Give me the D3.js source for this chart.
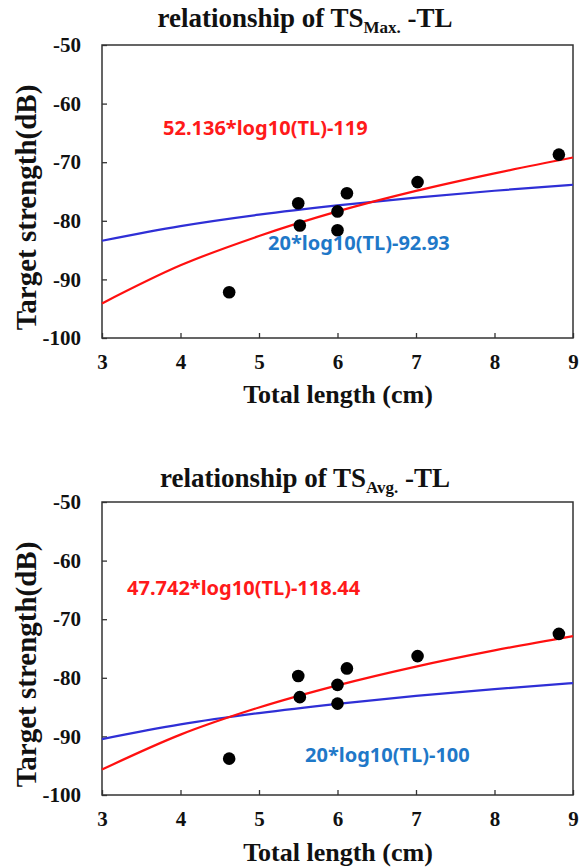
<!DOCTYPE html>
<html>
<head>
<meta charset="utf-8">
<script src="https://cdn.jsdelivr.net/npm/d3@7"></script>
<style>
  html, body { margin: 0; padding: 0; background: #fff; }
  svg { display: block; }
  .serif { font-family: "Liberation Serif", "Times New Roman", serif; font-weight: bold; }
</style>
</head>
<body>
<svg id="chart" width="585" height="867"></svg>
<script>
// ---- data ----
const fishTL = [4.62, 5.50, 5.52, 6.00, 6.00, 6.12, 7.02, 8.82];
const tsMax  = [-92.2, -77.0, -80.8, -78.4, -81.6, -75.3, -73.4, -68.7];
const tsAvg  = [-93.8, -79.7, -83.3, -81.2, -84.4, -78.4, -76.3, -72.5];

const curveTL = [3, 4, 5, 6, 7, 8, 9];
const maxFitRed  = [-94.1, -87.6, -82.6, -78.4, -74.9, -71.9, -69.2];
const maxFitBlue = [-83.4, -80.9, -78.95, -77.37, -76.03, -74.87, -73.85];
const avgFitRed  = [-95.66, -89.7, -85.07, -81.29, -78.09, -75.33, -72.88];
const avgFitBlue = [-90.46, -87.96, -86.02, -84.44, -83.1, -81.94, -80.91];

const xTicks = [3, 4, 5, 6, 7, 8, 9];
const yTicks = [-50, -60, -70, -80, -90, -100];

const panels = [
  { sub: "Max.", pts: tsMax, red: maxFitRed, blue: maxFitBlue,
    redLabel: "52.136*log10(TL)-119", blueLabel: "20*log10(TL)-92.93",
    top: 45, bottom: 338, titleY: 27, tickY: 364, xlabY: 403,
    redPos: [163, 135], bluePos: [268, 250] },
  { sub: "Avg.", pts: tsAvg, red: avgFitRed, blue: avgFitBlue,
    redLabel: "47.742*log10(TL)-118.44", blueLabel: "20*log10(TL)-100",
    top: 502, bottom: 795, titleY: 487, tickY: 821, xlabY: 861,
    redPos: [127, 595], bluePos: [305, 762] }
];

const svg = d3.select("#chart");
const left = 102, right = 573;
const sans = "Noto Sans, Open Sans, sans-serif";

panels.forEach(p => {
  const x = d3.scaleLinear().domain([3, 9]).range([left, right]);
  const y = d3.scaleLinear().domain([-100, -50]).range([p.bottom, p.top]);
  const g = svg.append("g");

  // title
  const t = g.append("text").attr("class", "serif")
    .attr("x", 305).attr("y", p.titleY)
    .attr("text-anchor", "middle")
    .style("font-size", "27px").attr("fill", "#111");
  t.append("tspan").text("relationship of TS");
  t.append("tspan").style("font-size", "17px").attr("dy", 6).text(p.sub);
  t.append("tspan").attr("dy", -6).text(" -TL");

  // axes
  const fmt = d => String(d);
  const yAxis = d3.axisLeft(y).tickValues(yTicks).tickFormat(fmt).tickSize(-5).tickPadding(21);
  const xAxis = d3.axisBottom(x).tickValues(xTicks).tickFormat(fmt).tickSize(-5).tickPadding(20);

  const ya = g.append("g").attr("transform", `translate(${left},0)`).call(yAxis);
  const xa = g.append("g").attr("transform", `translate(0,${p.bottom})`).call(xAxis);
  [ya, xa].forEach(a => {
    a.attr("font-family", null).attr("font-size", null);
    a.select(".domain").remove();
    a.selectAll(".tick line").attr("stroke", "#333").attr("stroke-width", 1.3);
    a.selectAll(".tick text")
      .attr("class", "serif")
      .style("font-size", "21px").attr("fill", "#111");
  });
  xa.selectAll(".tick text").attr("dy", null).attr("y", p.tickY - p.bottom)
    .attr("dominant-baseline", "middle");

  // frame
  g.append("rect")
    .attr("x", left).attr("y", p.top)
    .attr("width", right - left).attr("height", p.bottom - p.top)
    .attr("fill", "none").attr("stroke", "#333").attr("stroke-width", 1.5);

  // fit curves
  const line = d3.line()
    .x((d, i) => x(curveTL[i])).y(d => y(d))
    .curve(d3.curveMonotoneX);
  g.append("path").datum(p.blue).attr("d", line)
    .attr("fill", "none").attr("stroke", "#2f2fd6").attr("stroke-width", 2.2);
  g.append("path").datum(p.red).attr("d", line)
    .attr("fill", "none").attr("stroke", "#ff1010").attr("stroke-width", 2.2);

  // points
  g.selectAll("circle.pt").data(p.pts).enter().append("circle")
    .attr("class", "pt")
    .attr("cx", (d, i) => x(fishTL[i])).attr("cy", d => y(d))
    .attr("r", 6.3).attr("fill", "#000");

  // equation labels
  g.append("text").attr("x", p.redPos[0]).attr("y", p.redPos[1])
    .attr("font-family", sans).attr("font-weight", "bold")
    .attr("font-size", 20).attr("fill", "#ff1a1a").text(p.redLabel);
  g.append("text").attr("x", p.bluePos[0]).attr("y", p.bluePos[1])
    .attr("font-family", sans).attr("font-weight", "bold")
    .attr("font-size", 20).attr("fill", "#1f78c8").text(p.blueLabel);

  // axis labels
  g.append("text").attr("class", "serif")
    .attr("transform", `translate(36,${(p.top + p.bottom) / 2 + 16}) rotate(-90)`)
    .attr("text-anchor", "middle")
    .style("font-size", "29px").attr("fill", "#111")
    .text("Target strength(dB)");
  g.append("text").attr("class", "serif")
    .attr("x", 338).attr("y", p.xlabY)
    .attr("text-anchor", "middle")
    .style("font-size", "26px").attr("fill", "#111")
    .text("Total length (cm)");
});
</script>
</body>
</html>
